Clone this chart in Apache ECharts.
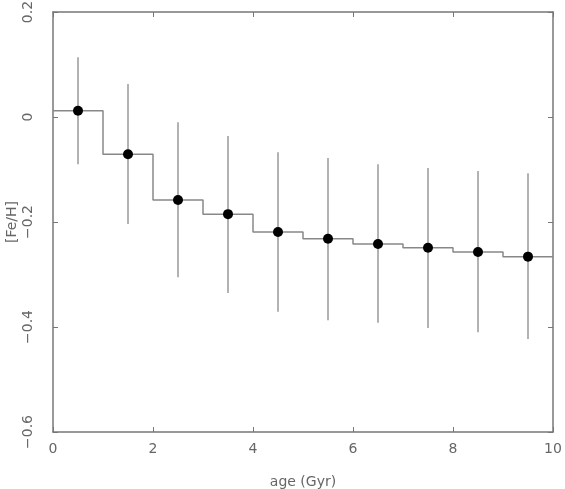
<!DOCTYPE html>
<html>
<head>
  <meta charset="utf-8">
  <title>Fe/H vs age</title>
  <script src="https://cdn.jsdelivr.net/npm/echarts@6/dist/echarts.min.js"></script>
</head>
<body style="margin:0;background:#fff">
  <div id="main" style="width:565px;height:489px;"></div>
  <script type="text/javascript">
    // bin centres (Gyr) and mean [Fe/H] with error bar ends
    var ages = [0.5, 1.5, 2.5, 3.5, 4.5, 5.5, 6.5, 7.5, 8.5, 9.5];
    var feh = [0.012, -0.071, -0.158, -0.185, -0.219, -0.232, -0.242, -0.249, -0.257, -0.266];
    var errTop = [0.114, 0.063, -0.010, -0.036, -0.067, -0.078, -0.090, -0.097, -0.103, -0.107];
    var errBottom = [-0.090, -0.204, -0.305, -0.335, -0.371, -0.387, -0.392, -0.402, -0.410, -0.423];
    var binEdges = [0, 1, 2, 3, 4, 5, 6, 7, 8, 9, 10];

    var myChart = echarts.init(document.getElementById('main'));

    // step line: each bin level from its left edge, last level carried to 10
    var stepData = binEdges.map(function (e, i) {
      return [e, feh[Math.min(i, feh.length - 1)]];
    });
    var pts = ages.map(function (a, i) { return [a, feh[i]]; });
    var bars = ages.map(function (a, i) { return [a, errBottom[i], errTop[i]]; });

    var axisCol = '#777';
    var labelFont = { color: '#666', fontSize: 14, fontFamily: 'DejaVu Sans' };
    var minus = function (v) { return String(Math.round(v * 10) / 10).replace('-', '\u2212'); };

    var option = {
      animation: false,
      grid: { left: 53, right: 12, top: 12, bottom: 57, containLabel: false, outerBoundsMode: 'none' },
      xAxis: [{
        type: 'value', min: 0, max: 10, interval: 2,
        name: 'age (Gyr)', nameLocation: 'middle', nameGap: 43,
        nameTextStyle: labelFont,
        axisLine: { onZero: false, lineStyle: { color: axisCol, width: 1.5 } },
        axisTick: { inside: true, length: 5, lineStyle: { color: axisCol } },
        axisLabel: Object.assign({ margin: 10 }, labelFont),
        splitLine: { show: false }
      }, {
        type: 'value', min: 0, max: 10, interval: 2, position: 'top',
        axisLine: { onZero: false, lineStyle: { color: axisCol, width: 1.5 } },
        axisTick: { inside: true, length: 5, lineStyle: { color: axisCol } },
        axisLabel: { show: false }, splitLine: { show: false }
      }],
      yAxis: [{
        type: 'value', min: -0.6, max: 0.2, interval: 0.2,
        name: '[Fe/H]', nameLocation: 'middle', nameGap: 34, nameRotate: 90,
        nameMoveOverlap: false,
        nameTextStyle: labelFont,
        axisLine: { onZero: false, lineStyle: { color: axisCol, width: 1.5 } },
        axisTick: { inside: true, length: 5, lineStyle: { color: axisCol } },
        axisLabel: Object.assign({ rotate: 90, margin: 18, formatter: minus, align: 'center', verticalAlign: 'bottom' }, labelFont),
        splitLine: { show: false }
      }, {
        type: 'value', min: -0.6, max: 0.2, interval: 0.2, position: 'right',
        axisLine: { onZero: false, lineStyle: { color: axisCol, width: 1.5 } },
        axisTick: { inside: true, length: 5, lineStyle: { color: axisCol } },
        axisLabel: { show: false }, splitLine: { show: false }
      }],
      series: [{
        type: 'line',
        step: 'end',
        data: stepData,
        symbol: 'none',
        lineStyle: { color: '#888', width: 1.5 },
        z: 2
      }, {
        type: 'custom',
        data: bars,
        renderItem: function (params, api) {
          var p1 = api.coord([api.value(0), api.value(1)]);
          var p2 = api.coord([api.value(0), api.value(2)]);
          return {
            type: 'line',
            shape: { x1: p1[0], y1: p1[1], x2: p2[0], y2: p2[1] },
            style: { stroke: '#999', lineWidth: 1.5 }
          };
        },
        z: 3
      }, {
        type: 'scatter',
        data: pts,
        symbol: 'circle',
        symbolSize: 10,
        itemStyle: { color: '#000', opacity: 1 },
        z: 4
      }]
    };

    myChart.setOption(option);
  </script>
</body>
</html>
